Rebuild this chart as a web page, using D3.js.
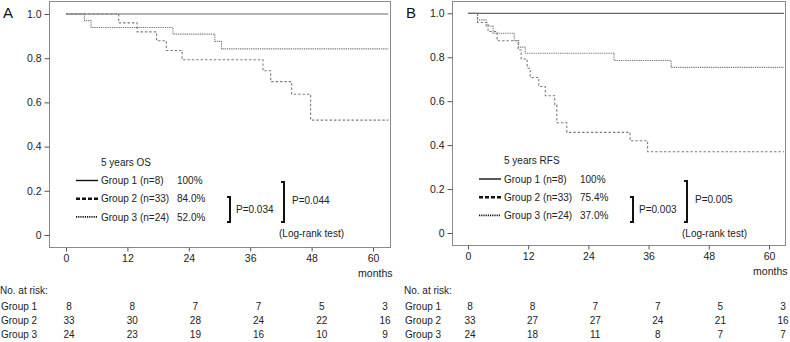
<!DOCTYPE html>
<html>
<head>
<meta charset="utf-8">
<script src="https://cdn.jsdelivr.net/npm/d3@7"></script>
<style>
  body { margin: 0; background: #fff; }
  svg { display: block; font-family: "Liberation Sans", Arial, sans-serif; }
</style>
</head>
<body>
<div id="chart"></div>
<script>
// data
var monthTicks = [0, 12, 24, 36, 48, 60];
var survTicks = [0, 0.2, 0.4, 0.6, 0.8, 1.0];
var groupNames = ["Group 1", "Group 2", "Group 3"];
var groupLabels = ["Group 1 (n=8)", "Group 2 (n=33)", "Group 3 (n=24)"];

// [month, survival]
var osGroup1 = [[0, 1], [63, 1]];
var osGroup2 = [[0, 1], [3.6, 0.970], [4.9, 0.939], [20.9, 0.909], [29.1, 0.876], [30.4, 0.842], [63, 0.842]];
var osGroup3 = [[0, 1], [10.3, 0.960], [13.9, 0.919], [17.7, 0.879], [19.6, 0.835], [22.7, 0.793],
                [38.5, 0.743], [40.0, 0.694], [44.1, 0.637], [47.8, 0.52], [63, 0.52]];

var rfsGroup1 = [[0, 1], [63, 1]];
var rfsGroup2 = [[0, 1], [1.9, 0.970], [3.6, 0.942], [5.0, 0.909], [9.2, 0.876], [10.1, 0.846],
                 [11.4, 0.818], [29.1, 0.785], [40.5, 0.754], [63, 0.754]];
var rfsGroup3 = [[0, 1], [1.9, 0.958], [4.0, 0.917], [5.8, 0.875], [10.0, 0.833], [10.6, 0.792],
                 [11.8, 0.75], [12.4, 0.708], [14.1, 0.667], [15.4, 0.625], [17.3, 0.583],
                 [17.7, 0.502], [19.7, 0.458], [32.3, 0.42], [35.8, 0.37], [63, 0.37]];

var osRates = ["100%", "84.0%", "52.0%"];
var rfsRates = ["100%", "75.4%", "37.0%"];
var osP = ["P=0.034", "P=0.044"];
var rfsP = ["P=0.003", "P=0.005"];

var osRisk1 = [8, 8, 7, 7, 5, 3];
var osRisk2 = [33, 30, 28, 24, 22, 16];
var osRisk3 = [24, 23, 19, 16, 10, 9];
var rfsRisk1 = [8, 8, 7, 7, 5, 3];
var rfsRisk2 = [33, 27, 27, 24, 21, 16];
var rfsRisk3 = [24, 18, 11, 8, 7, 7];

var W = 790, H = 342;
var svg = d3.select("#chart").append("svg").attr("width", W).attr("height", H);

var lineColor = "#7a7a7a";
var curveDash = [null, "1.3,0.9", "2.4,2"];
var legendDash = [null, "4,2", "1.2,1"];
var legendWidth = [1.4, 2.4, 1.6];

function drawPanel(p) {
  var g = svg.append("g");
  var x = d3.scaleLinear().domain([0, 60]).range([p.x0, p.x60]);
  var y = d3.scaleLinear().domain([0, 1]).range([p.y0, p.y1]);

  // frame
  g.append("rect")
    .attr("x", p.left).attr("y", p.top)
    .attr("width", p.right - p.left).attr("height", p.bottom - p.top)
    .attr("fill", "none").attr("stroke", "#8a8a8a").attr("stroke-width", 1);

  // y axis ticks
  var yAxis = d3.axisLeft(y).tickValues(survTicks).tickSize(5).tickPadding(3)
    .tickFormat(function(d) { return d === 0 ? "0" : d3.format(".1f")(d); });
  var ya = g.append("g").attr("transform", "translate(" + p.left + ",0)").call(yAxis);
  ya.select(".domain").remove();
  ya.selectAll("line").attr("stroke", "#555");
  ya.selectAll("text").attr("font-size", 10.5).attr("fill", "#222").attr("font-family", "Liberation Sans, Arial, sans-serif");

  var xAxis = d3.axisBottom(x).tickValues(monthTicks).tickSize(4).tickPadding(3);
  var xa = g.append("g").attr("transform", "translate(0," + p.bottom + ")").call(xAxis);
  xa.select(".domain").remove();
  xa.selectAll("line").attr("stroke", "#555");
  xa.selectAll("text").attr("font-size", 10.5).attr("fill", "#222").attr("font-family", "Liberation Sans, Arial, sans-serif");

  g.append("text").attr("x", p.right + 2).attr("y", p.bottom + 29)
    .attr("text-anchor", "end").attr("font-size", 10.5).attr("fill", "#222").text("months");

  g.append("text").attr("x", p.labelX).attr("y", 18)
    .attr("font-size", 15).attr("fill", "#111").text(p.label);

  // curves
  var line = d3.line().curve(d3.curveStepAfter)
    .x(function(d) { return x(d[0]); })
    .y(function(d) { return y(d[1]); });

  p.curves.forEach(function(c, i) {
    g.append("path").datum(c)
      .attr("d", line)
      .attr("fill", "none")
      .attr("stroke", i === 0 ? "#666" : lineColor)
      .attr("stroke-width", i === 0 ? 1.2 : 1.1)
      .attr("stroke-dasharray", curveDash[i]);
  });

  // legend
  g.append("text").attr("x", p.legX + 25).attr("y", p.legY - 15)
    .attr("font-size", 10).attr("fill", "#222").text(p.title);
  groupLabels.forEach(function(lab, i) {
    var ly = p.legY + i * 18.2;
    g.append("line").attr("x1", p.legX).attr("x2", p.legX + 22)
      .attr("y1", ly).attr("y2", ly)
      .attr("stroke", "#111").attr("stroke-width", legendWidth[i])
      .attr("stroke-dasharray", legendDash[i]);
    g.append("text").attr("x", p.legX + 25).attr("y", ly + 3.6)
      .attr("font-size", 10).attr("fill", "#222").text(lab);
    g.append("text").attr("x", p.legX + 101).attr("y", ly + 3.6)
      .attr("font-size", 10).attr("fill", "#222").text(p.rates[i]);
  });

  // brackets
  function bracket(bx, yTop, yBot) {
    g.append("path")
      .attr("d", "M" + (bx - 3) + "," + yTop + "H" + bx + "V" + yBot + "H" + (bx - 3))
      .attr("fill", "none").attr("stroke", "#111").attr("stroke-width", 2);
  }
  bracket(p.b1x, p.b1top, p.b1bot);
  g.append("text").attr("x", p.b1x + 6).attr("y", (p.b1top + p.b1bot) / 2 + 3.6)
    .attr("font-size", 10).attr("fill", "#222").text(p.pvals[0]);
  bracket(p.b2x, p.b2top, p.b2bot);
  g.append("text").attr("x", p.b2x + 8).attr("y", p.b2top + 22)
    .attr("font-size", 10).attr("fill", "#222").text(p.pvals[1]);
  g.append("text").attr("x", p.b2x - 5).attr("y", p.b2bot + 15)
    .attr("font-size", 10).attr("fill", "#222").text("(Log-rank test)");

  // risk table
  var rx = d3.scaleLinear().domain([0, 60]).range([p.r0, p.r60]);
  g.append("text").attr("x", p.tableX - 1).attr("y", 294)
    .attr("font-size", 10).attr("fill", "#222").text("No. at risk:");
  p.risk.forEach(function(row, i) {
    var ty = 310 + i * 14;
    g.append("text").attr("x", p.tableX).attr("y", ty)
      .attr("font-size", 10).attr("fill", "#222").text(groupNames[i]);
    g.selectAll(null).data(row).enter().append("text")
      .attr("x", function(d, j) { return rx(monthTicks[j]); })
      .attr("y", ty)
      .attr("text-anchor", "middle")
      .attr("font-size", 10).attr("fill", "#222")
      .text(function(d) { return d; });
  });
}

drawPanel({
  label: "A", labelX: 3,
  left: 49.5, right: 390.5, top: 1.5, bottom: 247.5,
  x0: 66, x60: 373, y0: 235, y1: 14,
  curves: [osGroup1, osGroup2, osGroup3],
  title: "5 years OS", legX: 76, legY: 180.5, rates: osRates,
  b1x: 230, b1top: 197, b1bot: 222, b2x: 284, b2top: 182, b2bot: 222,
  pvals: osP,
  tableX: 1, r0: 69, r60: 385, risk: [osRisk1, osRisk2, osRisk3]
});

drawPanel({
  label: "B", labelX: 406,
  left: 452.5, right: 785.5, top: 1.5, bottom: 245.5,
  x0: 468, x60: 769, y0: 233, y1: 13.3,
  curves: [rfsGroup1, rfsGroup2, rfsGroup3],
  title: "5 years RFS", legX: 479, legY: 179, rates: rfsRates,
  b1x: 633, b1top: 197, b1bot: 222, b2x: 687, b2top: 181, b2bot: 222,
  pvals: rfsP,
  tableX: 405, r0: 470, r60: 783, risk: [rfsRisk1, rfsRisk2, rfsRisk3]
});
</script>
</body>
</html>
